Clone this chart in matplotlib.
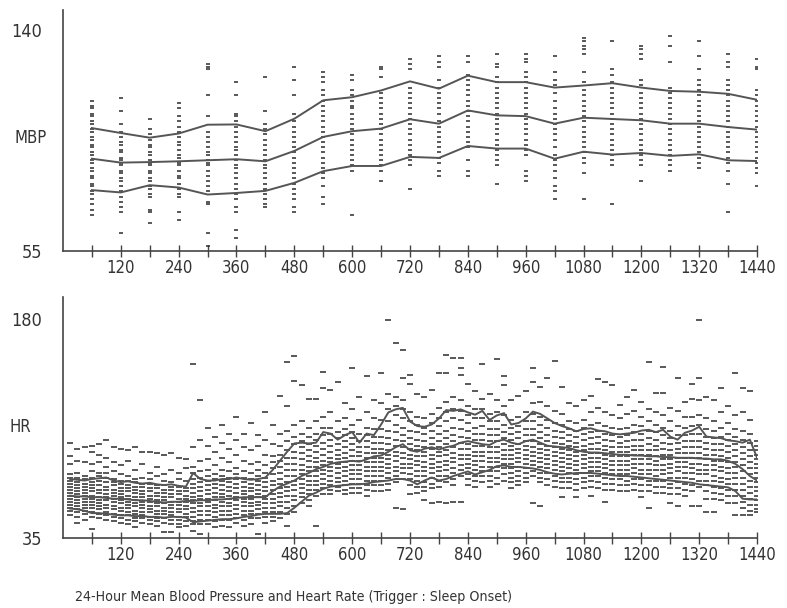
import numpy as np
import matplotlib
matplotlib.use("Agg")
import matplotlib.pyplot as plt

plt.rcParams['font.family'] = ['DejaVu Sans']
plt.rcParams['font.stretch'] = 'condensed'

# ---- top panel: mean blood pressure, one column of readings per hour ----
mbp_minutes = [60, 120, 180, 240, 300, 360, 420, 480, 540, 600, 660, 720,
               780, 840, 900, 960, 1020, 1080, 1140, 1200, 1260, 1320, 1380, 1440]
mbp_upper = [102.4, 100.5, 98.7, 100.3, 103.7, 103.8, 101.2, 106.0, 113.1, 114.3, 116.9, 120.4,
             117.6, 122.6, 120.1, 120.1, 118.0, 118.8, 119.7, 118.0, 116.7, 116.4, 115.6, 113.3]
mbp_mean = [90.6, 89.1, 89.3, 89.6, 90.0, 90.4, 89.6, 93.6, 99.0, 101.2, 102.2, 105.8,
            104.1, 109.2, 107.3, 107.0, 104.1, 106.4, 105.9, 105.4, 104.1, 104.1, 102.8, 101.8]
mbp_lower = [78.5, 77.6, 80.4, 79.5, 76.8, 77.4, 78.2, 81.3, 85.8, 87.8, 87.8, 91.3,
             90.9, 95.5, 94.5, 94.5, 90.6, 93.3, 92.2, 92.8, 91.7, 92.3, 90.0, 89.7]
mbp_points = [
    [113, 111, 110, 108, 107, 105, 104, 102, 101, 99, 98, 96, 95, 93, 92, 90, 89, 87, 86, 84, 83, 81, 80, 78, 77, 75, 73, 71, 69],
    [114, 109, 104, 101, 99, 97, 96, 94, 93, 91, 90, 89, 88, 86, 85, 83, 82, 80, 78, 76, 74, 72, 70, 62],
    [106, 102, 100, 98, 96, 95, 93, 92, 90, 89, 88, 86, 85, 83, 82, 80, 79, 77, 76, 71, 70, 66],
    [112, 110, 107, 105, 103, 101, 99, 97, 96, 94, 92, 91, 89, 88, 86, 84, 83, 81, 79, 77, 76, 70, 67],
    [127, 126, 125, 115, 107, 101, 99, 97, 95, 93, 92, 90, 89, 88, 86, 84, 82, 80, 78, 74, 73, 62, 57],
    [120, 115, 108, 107, 105, 103, 101, 99, 97, 95, 94, 92, 90, 88, 87, 85, 83, 81, 79, 77, 75, 72, 70, 63, 60],
    [122, 109, 104, 102, 100, 98, 96, 94, 92, 90, 88, 87, 85, 83, 81, 79, 77, 75, 73, 72],
    [126, 121, 115, 108, 105, 103, 101, 99, 97, 95, 93, 91, 89, 87, 85, 83, 81, 79, 77, 75, 72, 70],
    [124, 122, 120, 117, 115, 113, 111, 109, 107, 105, 103, 101, 99, 97, 95, 93, 91, 89, 87, 85, 83, 80, 76, 73],
    [123, 121, 117, 115, 113, 111, 110, 108, 106, 104, 102, 100, 98, 96, 94, 92, 90, 88, 86, 69],
    [126, 125, 122, 116, 114, 112, 110, 108, 106, 104, 102, 100, 98, 96, 94, 92, 90, 88, 86, 82],
    [129, 127, 125, 118, 116, 114, 112, 110, 108, 106, 104, 102, 100, 98, 96, 94, 92, 90, 88, 79],
    [130, 128, 126, 121, 118, 116, 114, 112, 110, 108, 105, 103, 101, 99, 97, 95, 93, 91, 89, 86, 84],
    [130, 128, 123, 121, 119, 117, 115, 113, 111, 109, 107, 105, 103, 101, 99, 97, 95, 90, 86, 84],
    [131, 127, 126, 122, 120, 118, 116, 114, 112, 110, 108, 106, 104, 102, 100, 98, 96, 94, 92, 90, 88, 81],
    [131, 129, 128, 124, 122, 120, 118, 116, 114, 112, 110, 108, 106, 104, 102, 100, 98, 96, 94, 92, 86, 84, 82],
    [130, 124, 121, 119, 116, 113, 110, 108, 106, 104, 102, 100, 98, 95, 92, 90, 88, 86, 83, 80, 78, 75],
    [137, 136, 134, 133, 131, 124, 120, 117, 115, 113, 111, 109, 107, 105, 103, 101, 99, 97, 95, 93, 91, 89, 85, 75],
    [136, 125, 123, 120, 118, 116, 114, 112, 110, 108, 106, 104, 102, 100, 98, 96, 94, 92, 90, 88, 73],
    [134, 133, 131, 129, 121, 119, 116, 114, 112, 110, 108, 106, 104, 102, 100, 98, 96, 94, 92, 90, 88, 82],
    [138, 134, 128, 118, 116, 114, 112, 110, 108, 106, 104, 102, 100, 98, 96, 94, 92, 90, 88, 86],
    [136, 130, 125, 121, 119, 117, 115, 113, 111, 109, 107, 105, 103, 101, 99, 97, 95, 93, 91, 89, 87],
    [131, 128, 126, 121, 119, 117, 115, 113, 111, 109, 107, 105, 103, 101, 99, 97, 95, 93, 91, 89, 86, 81, 70],
    [129, 126, 125, 117, 115, 113, 111, 109, 107, 105, 103, 101, 99, 97, 95, 93, 91, 89, 87, 85, 80],
]

# ---- bottom panel: heart rate, one column of readings every 15 minutes ----
hr_minutes = list(range(15, 1441, 15))
hr_upper = [74, 73.5, 73, 74, 74.5, 75, 73, 72,
            72.5, 71.5, 71, 71.5, 70.5, 70, 70.5, 69.5,
            69, 78, 74, 73, 73, 74, 74, 75,
            74, 73.5, 74, 75, 80, 86, 92, 97.5,
            98, 97.5, 98, 105, 104, 100, 103, 105,
            98, 104, 103, 110, 118, 120, 121, 112,
            109, 108.5, 110, 114, 119.5, 119, 120, 118,
            116.5, 119, 113, 116, 117.5, 110, 111, 114,
            118.5, 117, 114, 111, 109, 107.5, 105.5, 107,
            107.5, 106, 105.5, 104, 103.5, 104, 104.5, 106,
            106.5, 105, 106.5, 102, 100, 104.5, 106, 108.5,
            102, 101.5, 101, 99.5, 99, 98, 100, 88]
hr_mean = [63, 62.5, 62.5, 62, 62, 61.5, 61, 61,
           60.5, 60, 60, 59.5, 59, 58.5, 59, 59,
           59.5, 59.5, 60, 60, 60.5, 60.5, 61, 61.5,
           62, 62, 62, 62, 66, 69, 71, 73,
           76, 78, 80.5, 82, 84, 85, 85.5, 86,
           85.5, 87, 89, 89.5, 92, 95, 97, 93,
           92, 94, 95, 93.5, 95, 96, 98, 99,
           98, 97, 96.5, 99, 100, 98, 97, 99,
           100, 98, 96, 95.5, 95, 94.5, 93, 92,
           91.5, 91.5, 91, 90.5, 90, 90, 89.5, 89.5,
           89, 89, 88.5, 88.5, 88, 88, 88, 87.5,
           87.5, 87, 87, 86, 84, 80.5, 76, 73]
hr_lower = [54.5, 54, 53, 51.5, 51.5, 51, 50.5, 50,
            50, 49.5, 49.5, 49, 49, 48.5, 49, 49,
            48.5, 45.5, 46, 46.5, 47, 47.5, 47.5, 48,
            49, 49.5, 50.5, 51, 51, 51, 51.5, 55,
            59, 63, 65, 67.5, 69, 69.5, 70, 70.5,
            70.5, 71, 72, 72.5, 73, 74, 74, 73,
            70.5, 73, 75, 73, 74, 76, 77.5, 79,
            77, 78.5, 80, 82.5, 83, 82, 82, 81.5,
            81, 80, 78.5, 77.5, 77, 77.5, 78, 78,
            78, 77.5, 77, 76.5, 76, 76, 75.5, 75,
            74.5, 74, 73.5, 73, 72.5, 72, 71.5, 70.5,
            70, 69.5, 69, 68.5, 66, 61, 60.5, 60.5]
hr_points = [
    [98, 89, 84, 77, 75, 73, 71, 69, 67, 65, 63, 61, 59, 57, 55, 53, 50],
    [94, 86, 78, 75, 72, 70, 68, 66, 64, 62, 60, 58, 56, 54, 52, 49, 45],
    [95, 85, 76, 74, 71, 69, 67, 65, 63, 61, 59, 57, 55, 53, 51, 47],
    [96, 92, 84, 79, 75, 72, 70, 68, 66, 63, 61, 59, 57, 55, 52, 49, 41],
    [97, 90, 85, 78, 76, 73, 70, 67, 65, 62, 60, 58, 56, 54, 51, 48],
    [100, 88, 82, 78, 75, 72, 69, 67, 64, 62, 60, 57, 55, 52, 50, 47],
    [95, 85, 79, 74, 72, 70, 67, 65, 63, 61, 59, 56, 54, 51, 49, 46],
    [94, 83, 77, 73, 71, 68, 66, 64, 62, 60, 58, 55, 53, 50, 48, 45],
    [93, 86, 76, 73, 70, 68, 66, 63, 61, 59, 57, 55, 52, 50, 47, 44],
    [95, 80, 74, 72, 69, 67, 65, 62, 60, 58, 56, 53, 51, 48, 46, 42],
    [92, 84, 75, 71, 69, 66, 64, 62, 59, 57, 55, 52, 50, 48, 45],
    [92, 78, 74, 71, 68, 66, 63, 61, 59, 56, 54, 52, 49, 47, 44],
    [91, 82, 76, 70, 68, 65, 63, 60, 58, 56, 53, 51, 48, 46, 43],
    [90, 77, 73, 70, 67, 65, 62, 60, 58, 55, 53, 51, 48, 45, 39],
    [91, 80, 72, 69, 67, 64, 62, 59, 57, 55, 52, 50, 47, 44, 39],
    [88, 78, 74, 69, 66, 64, 61, 59, 57, 54, 52, 49, 47, 44, 42],
    [87, 81, 73, 68, 66, 63, 61, 59, 56, 54, 51, 49, 46, 43],
    [150, 95, 82, 78, 74, 71, 68, 65, 62, 60, 58, 55, 52, 49, 46, 44, 40],
    [126, 100, 86, 79, 75, 72, 69, 66, 63, 61, 58, 56, 53, 50, 47, 44, 38],
    [108, 96, 87, 80, 76, 73, 70, 67, 64, 61, 59, 56, 53, 50, 47, 44],
    [102, 92, 83, 77, 74, 71, 68, 65, 62, 60, 57, 55, 52, 49, 46, 42],
    [110, 98, 88, 80, 76, 73, 70, 67, 64, 62, 59, 56, 53, 50, 47, 43],
    [104, 94, 85, 79, 75, 72, 69, 66, 63, 61, 58, 56, 53, 50, 47, 42],
    [115, 100, 90, 81, 77, 74, 71, 68, 65, 62, 60, 57, 54, 51, 48, 45],
    [104, 95, 86, 79, 75, 72, 69, 66, 64, 61, 59, 56, 53, 50, 47, 43],
    [111, 93, 84, 78, 74, 71, 68, 66, 63, 61, 58, 56, 53, 51, 48, 44],
    [103, 96, 85, 80, 76, 73, 70, 67, 64, 62, 59, 57, 54, 51, 48, 38],
    [118, 100, 90, 83, 78, 75, 72, 69, 66, 63, 61, 58, 55, 52, 49, 45],
    [110, 97, 89, 85, 81, 77, 73, 70, 67, 64, 61, 58, 55, 52, 49, 46],
    [129, 104, 96, 90, 86, 82, 78, 74, 71, 68, 65, 62, 59, 56, 52, 48],
    [151, 122, 106, 99, 93, 88, 84, 80, 76, 72, 69, 66, 63, 59, 55, 51, 43],
    [155, 139, 110, 102, 97, 92, 88, 84, 80, 76, 73, 70, 67, 63, 60, 56, 52],
    [136, 112, 104, 99, 95, 91, 87, 83, 80, 77, 74, 71, 68, 65, 62, 58],
    [127, 108, 102, 97, 93, 89, 86, 82, 79, 76, 73, 70, 67, 64, 60, 56],
    [127, 112, 104, 100, 96, 92, 88, 85, 82, 79, 76, 73, 70, 67, 63, 43],
    [145, 134, 115, 108, 103, 98, 94, 90, 86, 83, 80, 77, 74, 71, 68, 64],
    [133, 118, 108, 104, 100, 96, 92, 88, 85, 82, 79, 76, 73, 70, 67, 64],
    [138, 112, 105, 101, 97, 93, 90, 87, 84, 81, 78, 75, 72, 69, 66],
    [124, 114, 107, 103, 99, 95, 91, 88, 85, 82, 79, 76, 73, 70, 67, 64],
    [147, 120, 110, 105, 101, 97, 93, 89, 86, 83, 80, 77, 74, 71, 68, 65],
    [128, 113, 104, 99, 95, 92, 89, 86, 83, 80, 77, 74, 71, 68, 65],
    [142, 118, 108, 103, 99, 95, 91, 88, 85, 82, 79, 76, 73, 70, 67, 63],
    [126, 114, 107, 102, 98, 94, 91, 88, 85, 82, 79, 76, 73, 70, 66],
    [144, 124, 113, 107, 102, 98, 94, 91, 88, 85, 82, 79, 76, 73, 70, 66],
    [179, 130, 120, 112, 106, 101, 97, 93, 90, 87, 84, 81, 78, 75, 71, 67],
    [164, 128, 122, 116, 110, 105, 100, 96, 92, 89, 86, 82, 79, 76, 72, 55],
    [159, 141, 126, 120, 114, 108, 103, 99, 95, 91, 88, 84, 81, 78, 74, 54],
    [143, 137, 118, 112, 106, 101, 97, 94, 90, 87, 84, 81, 77, 74, 70, 64],
    [130, 115, 110, 105, 100, 96, 93, 89, 86, 83, 79, 76, 73, 69, 65],
    [128, 114, 108, 104, 99, 95, 92, 89, 85, 82, 79, 76, 72, 69, 66, 60],
    [133, 117, 111, 106, 101, 97, 94, 90, 87, 84, 81, 78, 75, 71, 68, 58],
    [144, 121, 114, 109, 104, 99, 95, 92, 89, 85, 82, 79, 76, 73, 69, 59],
    [156, 144, 125, 118, 112, 106, 101, 97, 93, 90, 86, 83, 80, 76, 72, 58],
    [154, 128, 120, 114, 108, 103, 99, 95, 91, 88, 85, 81, 78, 74, 70, 59],
    [154, 147, 143, 126, 119, 113, 107, 102, 98, 94, 90, 87, 83, 80, 76, 59],
    [137, 122, 116, 111, 106, 101, 97, 94, 90, 87, 84, 81, 77, 74, 70],
    [132, 120, 114, 108, 104, 100, 96, 92, 89, 86, 83, 80, 76, 73, 69],
    [150, 127, 120, 114, 109, 104, 100, 96, 92, 89, 86, 82, 79, 76, 72],
    [130, 117, 112, 107, 103, 99, 95, 92, 88, 85, 82, 79, 76, 73, 69],
    [153, 126, 118, 112, 107, 103, 99, 95, 92, 88, 85, 82, 79, 75, 71],
    [142, 136, 122, 116, 110, 105, 101, 97, 93, 90, 87, 84, 81, 77, 73],
    [126, 113, 108, 104, 100, 96, 93, 90, 87, 84, 81, 78, 75, 72, 68],
    [129, 115, 109, 105, 101, 97, 94, 91, 88, 85, 82, 79, 76, 73, 70],
    [132, 118, 112, 107, 103, 99, 96, 93, 90, 87, 84, 81, 78, 75, 72],
    [147, 138, 124, 117, 112, 107, 103, 99, 95, 92, 89, 86, 83, 79, 76, 58],
    [135, 125, 115, 110, 105, 101, 97, 94, 91, 88, 85, 82, 78, 75, 72, 56],
    [141, 122, 113, 108, 103, 99, 96, 93, 90, 87, 84, 81, 78, 74, 70],
    [152, 119, 111, 106, 102, 98, 95, 92, 89, 86, 83, 80, 76, 73, 69],
    [135, 117, 110, 105, 101, 97, 94, 91, 88, 85, 82, 79, 75, 72, 68, 62],
    [124, 112, 107, 103, 99, 96, 93, 90, 87, 84, 81, 78, 75, 72, 68],
    [122, 111, 106, 102, 98, 95, 92, 89, 86, 83, 80, 77, 74, 71, 67, 62],
    [126, 113, 108, 104, 100, 96, 93, 90, 87, 84, 81, 78, 75, 72, 68],
    [129, 118, 110, 105, 101, 97, 94, 91, 88, 85, 82, 79, 76, 73, 69, 63],
    [140, 121, 111, 106, 102, 98, 94, 91, 88, 85, 82, 79, 76, 72, 68],
    [138, 118, 109, 104, 100, 96, 93, 90, 87, 84, 81, 78, 75, 71, 67, 59],
    [136, 116, 108, 103, 99, 95, 92, 89, 86, 83, 80, 77, 74, 71, 67],
    [123, 114, 107, 102, 98, 95, 92, 89, 86, 83, 80, 77, 74, 70, 66],
    [128, 117, 108, 103, 99, 95, 92, 89, 86, 83, 80, 77, 73, 70, 66],
    [133, 119, 110, 105, 100, 96, 93, 90, 87, 84, 81, 78, 74, 71, 67],
    [125, 115, 109, 104, 100, 96, 93, 90, 87, 84, 80, 77, 74, 70, 66, 62],
    [151, 120, 112, 106, 101, 97, 93, 90, 87, 84, 80, 77, 73, 70, 66, 55],
    [131, 118, 110, 105, 100, 96, 93, 89, 86, 83, 80, 76, 73, 69, 65],
    [148, 131, 116, 108, 103, 98, 94, 90, 87, 83, 80, 77, 73, 69, 65],
    [121, 112, 106, 101, 97, 93, 90, 87, 84, 81, 78, 75, 71, 68, 64, 58],
    [141, 119, 109, 103, 98, 94, 91, 88, 85, 82, 79, 75, 72, 68, 64, 56],
    [125, 115, 108, 103, 99, 95, 91, 88, 85, 82, 78, 75, 71, 67, 63],
    [137, 127, 115, 109, 104, 99, 95, 91, 88, 84, 81, 78, 74, 70, 66, 56],
    [179, 141, 126, 116, 110, 104, 99, 95, 91, 88, 84, 80, 77, 73, 69, 56],
    [128, 114, 107, 102, 98, 94, 90, 87, 83, 80, 77, 73, 70, 66, 61, 52],
    [126, 112, 106, 101, 97, 93, 90, 86, 83, 80, 76, 73, 69, 65, 61, 52],
    [134, 118, 108, 102, 97, 93, 89, 86, 82, 79, 75, 72, 68, 64, 60],
    [122, 111, 104, 100, 96, 92, 88, 85, 81, 78, 74, 71, 67, 63, 58],
    [144, 116, 107, 102, 97, 93, 89, 85, 82, 78, 75, 71, 67, 63, 58, 50],
    [134, 118, 106, 100, 95, 91, 87, 83, 79, 75, 71, 67, 63, 59, 55, 50],
    [132, 113, 104, 98, 93, 89, 85, 81, 77, 73, 69, 65, 61, 57, 53, 50],
    [99, 96, 93, 90, 87, 84, 81, 78, 75, 72, 69, 66, 63, 60, 57, 54, 52],
]

ink = '#2b2b2b'
line_col = '#555555'
text_col = '#333333'


def draw_panel(ax, minutes, points, upper, mean, lower, ylim, label_vals, dash_size):
    """Column scatter of readings with mean and +/- SD curves"""
    for m, vals in zip(minutes, points):
        ax.plot([m] * len(vals), vals, ls='none', marker='_', ms=dash_size,
                mew=1.1, color=ink)
    for curve in (upper, mean, lower):
        ax.plot(minutes, curve, color=line_col, lw=1.4)
    ax.set_xlim(0, 1440)
    ax.set_ylim(*ylim)
    ax.spines['top'].set_visible(False)
    ax.spines['right'].set_visible(False)
    for s in ('left', 'bottom'):
        ax.spines[s].set_color('#444444')
        ax.spines[s].set_linewidth(1.2)
    ax.set_xticks(range(120, 1441, 120))
    ax.set_xticks(range(60, 1441, 120), minor=True)
    ax.tick_params(axis='x', which='both', direction='inout', length=8, width=1,
                   color='#444444', labelsize=12, pad=2, labelcolor=text_col)
    ax.set_yticks(label_vals)
    ax.tick_params(axis='y', length=0, pad=15, labelsize=13, labelcolor=text_col)


fig = plt.figure(figsize=(7.87, 6.08), dpi=100)
ax1 = fig.add_axes([0.080, 0.587, 0.882, 0.397])
ax2 = fig.add_axes([0.080, 0.115, 0.882, 0.396])

draw_panel(ax1, mbp_minutes, mbp_points, mbp_upper, mbp_mean, mbp_lower,
           (55, 148), [55, 140], 3.2)
draw_panel(ax2, hr_minutes, hr_points, hr_upper, hr_mean, hr_lower,
           (35, 194), [35, 180], 4)

fig.text(31 / 787, 1 - 138 / 608, 'MBP', ha='center', va='center', fontsize=12, color=text_col)
fig.text(20 / 787, 1 - 427 / 608, 'HR', ha='center', va='center', fontsize=12, color=text_col)
fig.text(75 / 787, 1 - 597 / 608,
         '24-Hour Mean Blood Pressure and Heart Rate (Trigger : Sleep Onset)',
         ha='left', va='center', fontsize=10.2, color=text_col)

fig.savefig('out.png', dpi=100)
